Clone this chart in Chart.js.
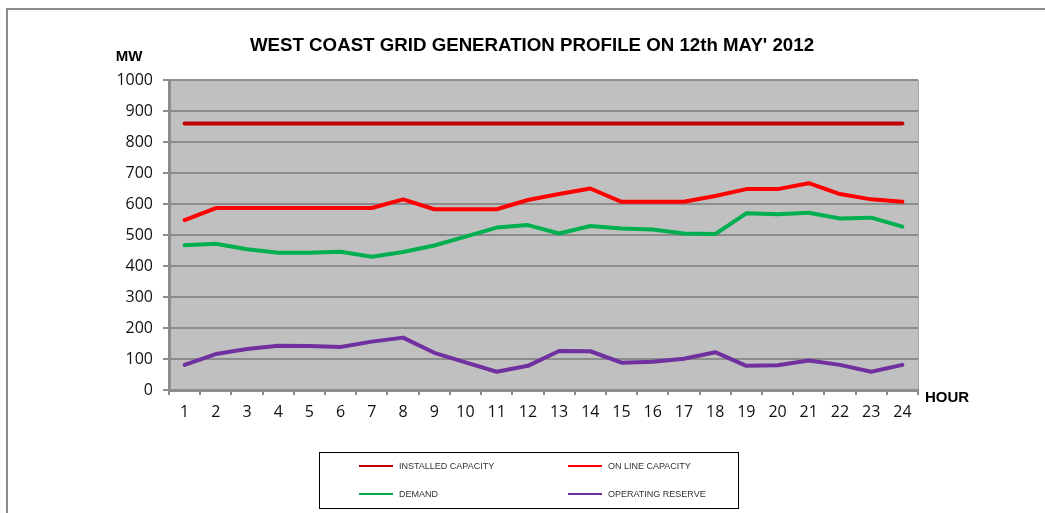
<!DOCTYPE html>
<html>
<head>
<meta charset="utf-8">
<script src="https://cdn.jsdelivr.net/npm/chart.js@4.4.1/dist/chart.umd.min.js"></script>
<style>
  html, body { margin: 0; padding: 0; background: #fff; }
  canvas { display: block; }
</style>
</head>
<body>
<canvas id="grafik" width="1045" height="513"></canvas>
<script>
// data (MW per hour)
const jam = ["1","2","3","4","5","6","7","8","9","10","11","12","13","14","15","16","17","18","19","20","21","22","23","24"];
const installedCapacity = [860,860,860,860,860,860,860,860,860,860,860,860,860,860,860,860,860,860,860,860,860,860,860,860];
const onlineCapacity = [548,587,587,587,587,587,587,615,583,583,583,613,632,650,607,607,607,626,648,648,667,632,615,607];
const demand = [467,472,454,443,443,446,430,445,466,495,524,532,505,529,521,518,505,503,570,567,572,553,556,527];
const operatingReserve = [81,116,132,143,142,139,156,169,120,89,59,78,126,125,88,91,101,122,78,80,95,81,59,81];
const yMin = 0, yMax = 1000, yStep = 100;

const judul = "WEST COAST GRID GENERATION PROFILE ON 12th MAY' 2012";
const fontTeks = "'Liberation Sans', Arial, sans-serif";
const fontAngka = "'Open Sans', 'Liberation Sans', sans-serif";

// background, frame, titles and legend
const hiasan = {
  id: "hiasan",
  beforeDraw(chart) {
    const ctx = chart.ctx;
    const a = chart.chartArea;
    ctx.save();
    ctx.fillStyle = "#fff";
    ctx.fillRect(0, 0, chart.width, chart.height);
    // outer frame
    ctx.strokeStyle = "#8c8c8c";
    ctx.lineWidth = 2;
    ctx.beginPath();
    ctx.moveTo(7, chart.height);
    ctx.lineTo(7, 9);
    ctx.lineTo(chart.width, 9);
    ctx.stroke();
    // plot area
    ctx.fillStyle = "#c0c0c0";
    ctx.fillRect(a.left, a.top, a.right - a.left, a.bottom - a.top);
    ctx.strokeStyle = "#a6a6a6";
    ctx.lineWidth = 1;
    ctx.beginPath();
    ctx.moveTo(a.left, a.top + 0.5);
    ctx.lineTo(a.right + 0.5, a.top + 0.5);
    ctx.lineTo(a.right + 0.5, a.bottom);
    ctx.stroke();
    ctx.restore();
  },
  afterDraw(chart) {
    const ctx = chart.ctx;
    ctx.save();
    ctx.fillStyle = "#000";
    ctx.textBaseline = "middle";
    ctx.textAlign = "center";
    ctx.font = "bold 18.7px " + fontTeks;
    ctx.fillText(judul, 532, 46);
    ctx.font = "bold 15px " + fontTeks;
    ctx.fillText("MW", 129, 57);
    ctx.textAlign = "left";
    ctx.fillText("HOUR", 925, 398);

    // legend box
    ctx.strokeStyle = "#000";
    ctx.lineWidth = 1;
    ctx.strokeRect(319.5, 452.5, 419, 56);
    const posisi = [[359, 466], [568, 466], [359, 494], [568, 494]];
    ctx.font = "9px " + fontTeks;
    ctx.fillStyle = "#333";
    chart.data.datasets.forEach((ds, i) => {
      const [x, y] = posisi[i];
      ctx.strokeStyle = ds.borderColor;
      ctx.lineWidth = 2;
      ctx.beginPath();
      ctx.moveTo(x, y);
      ctx.lineTo(x + 34, y);
      ctx.stroke();
      ctx.fillText(ds.label, x + 40, y + 1);
    });
    ctx.restore();
  }
};

new Chart(document.getElementById("grafik"), {
  type: "line",
  data: {
    labels: jam,
    datasets: [
      { label: "INSTALLED CAPACITY", data: installedCapacity, borderColor: "#c00000" },
      { label: "ON LINE CAPACITY", data: onlineCapacity, borderColor: "#ff0000" },
      { label: "DEMAND", data: demand, borderColor: "#00b050" },
      { label: "OPERATING RESERVE", data: operatingReserve, borderColor: "#7030a0" },
    ].map((d) => ({ ...d, borderWidth: 4, pointRadius: 0, tension: 0, fill: false, borderCapStyle: "round", borderJoinStyle: "round" })),
  },
  options: {
    responsive: false,
    animation: false,
    layout: { padding: { left: 0, top: 80, right: 127, bottom: 83 } },
    plugins: { legend: { display: false }, title: { display: false }, tooltip: { enabled: false } },
    scales: {
      x: {
        offset: true,
        grid: { offset: true, drawOnChartArea: false, drawTicks: true, tickLength: 5, color: "#8c8c8c", lineWidth: 2 },
        border: { color: "#8c8c8c", width: 3 },
        ticks: { color: "#111", font: { family: fontAngka, size: 16 }, padding: 8, maxRotation: 0, autoSkip: false },
        afterFit(s) { s.height = 40; },
      },
      y: {
        min: yMin,
        max: yMax,
        grid: { color: "#8c8c8c", lineWidth: 2, tickLength: 6 },
        border: { color: "#8c8c8c", width: 3 },
        ticks: { stepSize: yStep, color: "#111", font: { family: fontAngka, size: 16 }, padding: 10, callback: (v) => String(v) },
        afterFit(s) { s.width = 169; },
      },
    },
  },
  plugins: [hiasan],
});
</script>
</body>
</html>
